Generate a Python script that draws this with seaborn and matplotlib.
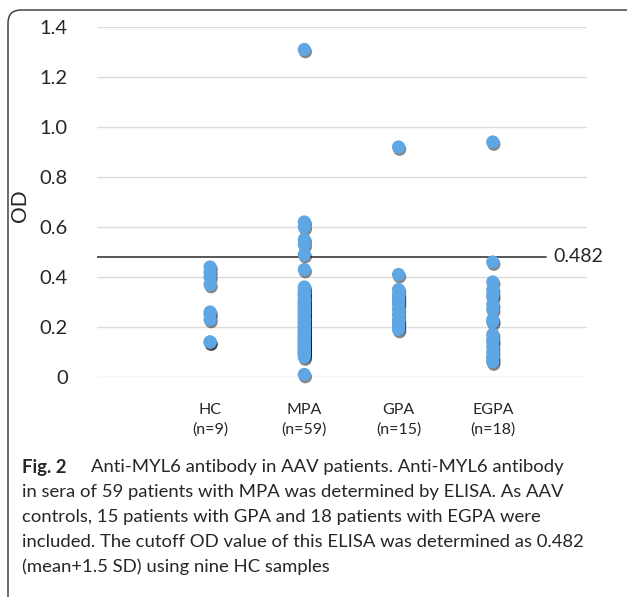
import numpy as np
import pandas as pd
import seaborn as sns
import matplotlib.pyplot as plt
import matplotlib.patheffects as pe
from matplotlib.patches import FancyBboxPatch

# datos (OD por grupo)
grupos = ["HC", "MPA", "GPA", "EGPA"]
etiquetas = ["HC\n(n=9)", "MPA\n(n=59)", "GPA\n(n=15)", "EGPA\n(n=18)"]
od_hc = [0.44, 0.42, 0.40, 0.37, 0.26, 0.25, 0.23, 0.14, 0.14]
od_mpa = [1.31, 0.62, 0.60, 0.55, 0.53, 0.49, 0.43,
          0.36, 0.35, 0.34, 0.33, 0.33, 0.32, 0.31, 0.30, 0.30, 0.29,
          0.28, 0.28, 0.27, 0.26, 0.26, 0.25, 0.25, 0.24, 0.23, 0.23,
          0.22, 0.22, 0.21, 0.20, 0.20, 0.19, 0.19, 0.18, 0.18, 0.17,
          0.17, 0.16, 0.16, 0.15, 0.15, 0.14, 0.14, 0.14, 0.13, 0.13,
          0.12, 0.12, 0.12, 0.11, 0.11, 0.10, 0.10, 0.10, 0.09, 0.09,
          0.08, 0.01]
od_gpa = [0.92, 0.41, 0.35, 0.33, 0.32, 0.31, 0.30, 0.29, 0.27, 0.25,
          0.23, 0.22, 0.21, 0.20, 0.19]
od_egpa = [0.94, 0.46, 0.38, 0.35, 0.33, 0.32, 0.29, 0.27, 0.23, 0.22,
           0.17, 0.15, 0.14, 0.12, 0.10, 0.08, 0.07, 0.06]
cutoff = 0.482

df = pd.DataFrame({
    "Grupo": ["HC"] * len(od_hc) + ["MPA"] * len(od_mpa)
             + ["GPA"] * len(od_gpa) + ["EGPA"] * len(od_egpa),
    "OD": od_hc + od_mpa + od_gpa + od_egpa,
})

sns.set_style("white")
plt.rcParams["font.family"] = ["Lato", "DejaVu Sans"]

fig = plt.figure(figsize=(6.27, 5.97), dpi=100)
ax = fig.add_axes([97 / 627, 1 - 377 / 597, 490 / 627, 350 / 597])

# marco redondeado de la figura
marco = FancyBboxPatch((0.08, -0.5), 7.0, 5.97 - 0.10 + 0.5,
                       boxstyle="round,pad=0,rounding_size=0.13",
                       transform=fig.dpi_scale_trans, fill=False,
                       edgecolor="#333333", linewidth=1.0, zorder=0)
fig.patches.append(marco)

sns.stripplot(data=df, x="Grupo", y="OD", order=grupos, jitter=False,
              color="#5fa6e4", size=9.5, linewidth=0, ax=ax, zorder=3)
for col in ax.collections:
    col.set_clip_on(False)
    col.set_path_effects([pe.SimplePatchShadow(offset=(0.8, -1.6), shadow_rgbFace="#111111",
                                               alpha=0.5), pe.Normal()])

ax.set_xlim(-1.2, 4.0)
ax.set_ylim(0, 1.4)
ax.set_yticks(np.arange(0, 1.41, 0.2))
ax.set_yticklabels(["0", "0.2", "0.4", "0.6", "0.8", "1.0", "1.2", "1.4"], fontsize=14.5)
ax.set_xticks(range(4))
ax.set_xticklabels(etiquetas, fontsize=11.5, linespacing=1.45)
ax.tick_params(axis="y", length=0, pad=21)
ax.tick_params(axis="x", length=0, pad=19)
ax.grid(axis="y", color="#dcdcdc", linewidth=1.0)
ax.set_axisbelow(True)
for s in ax.spines.values():
    s.set_visible(False)
ax.set_xlabel("")
ax.set_ylabel("OD", fontsize=15)
ax.yaxis.set_label_coords(-0.137, 0.49)

# linea de corte
ax.plot([-1.2, 3.56], [cutoff, cutoff], color="#3a3a3a", linewidth=1.2, zorder=2)
ax.text(3.64, cutoff, "0.482", fontsize=14, va="center", ha="left")

# pie de figura
lineas = [
    "in sera of 59 patients with MPA was determined by ELISA. As AAV",
    "controls, 15 patients with GPA and 18 patients with EGPA were",
    "included. The cutoff OD value of this ELISA was determined as 0.482",
    "(mean+1.5 SD) using nine HC samples",
]
fuente = ["Lato", "DejaVu Sans"]
fig.text(22 / 627, 1 - 467 / 597, "Fig. 2", fontsize=13.3, fontweight="bold",
         va="center", family=fuente)
fig.text(91 / 627, 1 - 467 / 597, "Anti-MYL6 antibody in AAV patients. Anti-MYL6 antibody",
         fontsize=13.3, va="center", family=fuente)
for i, t in enumerate(lineas):
    fig.text(22 / 627, 1 - (492 + 25 * i) / 597, t, fontsize=13.3, va="center", family=fuente)

fig.savefig("out.png", dpi=100)
